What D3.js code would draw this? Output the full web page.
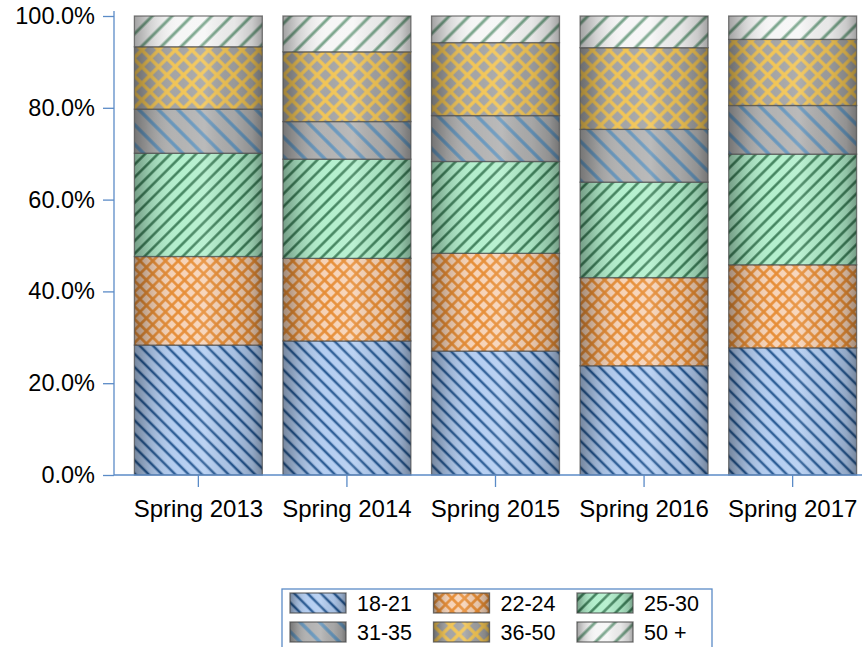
<!DOCTYPE html>
<html>
<head>
<meta charset="utf-8">
<script src="https://cdn.jsdelivr.net/npm/d3@7"></script>
<style>
  html, body { margin: 0; padding: 0; background: #fff; }
  svg { display: block; }
  text { font-family: "Liberation Sans", Arial, Helvetica, sans-serif; fill: #000; }
</style>
</head>
<body>
<svg id="chart" width="863" height="647"></svg>
<script>
// ---- data ----
const categories = ["Spring 2013", "Spring 2014", "Spring 2015", "Spring 2016", "Spring 2017"];
const groups = ["18-21", "22-24", "25-30", "31-35", "36-50", "50 +"];
const s18_21 = [28.3, 29.2, 27.0, 23.8, 27.7];
const s22_24 = [19.3, 18.0, 21.3, 19.2, 18.1];
const s25_30 = [22.5, 21.6, 20.0, 20.8, 24.1];
const s31_35 = [9.6, 8.2, 10.0, 11.5, 10.6];
const s36_50 = [13.6, 15.2, 15.9, 17.8, 14.4];
const s50p   = [6.7, 7.8, 5.8, 6.9, 5.1];
const yTicks = [0, 0.2, 0.4, 0.6, 0.8, 1.0];

const seriesValues = [s18_21, s22_24, s25_30, s31_35, s36_50, s50p];

// ---- styles ----
const styles = [
  { id: "p0", type: "stripe", angle: -45, spacing: 9.4, width: 2.5, color: "#285a94", bg: "#b3cdf1" },
  { id: "p1", type: "cross",  angle: 45,  spacing: 9.0, width: 2.6, color: "#e68a30", bg: "#f6d2b6" },
  { id: "p2", type: "stripe", angle: 45,  spacing: 9.0, width: 2.4, color: "#377a53", bg: "#b2efcc" },
  { id: "p3", type: "stripe", angle: -45, spacing: 13.8, width: 3.4, color: "#6494bb", bg: "#b1b1b1" },
  { id: "p4", type: "cross",  angle: 45,  spacing: 11.8, width: 3.4, color: "#f2c452", bg: "#a3a3a3" },
  { id: "p5", type: "stripe", angle: 45,  spacing: 14.0, width: 3.0, color: "#78a48a", bg: "#f6f6f6" }
];

const svg = d3.select("#chart");
const defs = svg.append("defs");

styles.forEach(s => {
  const p = defs.append("pattern")
    .attr("id", s.id)
    .attr("patternUnits", "userSpaceOnUse")
    .attr("width", s.spacing).attr("height", s.spacing)
    .attr("patternTransform", `rotate(${s.angle})`);
  p.append("rect").attr("width", s.spacing).attr("height", s.spacing).attr("fill", s.bg);
  p.append("line")
    .attr("x1", s.spacing / 2).attr("y1", -1).attr("x2", s.spacing / 2).attr("y2", s.spacing + 1)
    .attr("stroke", s.color).attr("stroke-width", s.width);
  if (s.type === "cross") {
    p.append("line")
      .attr("x1", -1).attr("y1", s.spacing / 2).attr("x2", s.spacing + 1).attr("y2", s.spacing / 2)
      .attr("stroke", s.color).attr("stroke-width", s.width);
  }
});

const grad = defs.append("linearGradient").attr("id", "sheen")
  .attr("x1", 0).attr("x2", 1).attr("y1", 0).attr("y2", 0);
[
  [0, "#000", 0.34], [0.12, "#000", 0.15], [0.35, "#fff", 0.02], [0.55, "#fff", 0.12],
  [0.78, "#000", 0.06], [0.92, "#000", 0.18], [1, "#000", 0.34]
].forEach(([o, c, a]) => grad.append("stop").attr("offset", o).attr("stop-color", c).attr("stop-opacity", a));

// ---- scales ----
const x = d3.scaleBand().domain(categories).range([124, 867]).paddingInner(0.139).paddingOuter(0.07);
const y = d3.scaleLinear().domain([0, 1]).range([475, 16]);
const axisColor = "#5b8bc7";

// ---- stack ----
const table = categories.map((c, i) => {
  const row = { cat: c };
  groups.forEach((g, j) => row[g] = seriesValues[j][i] / 100);
  return row;
});
const stacked = d3.stack().keys(groups)(table);

const barsG = svg.append("g");
stacked.forEach((layer, j) => {
  const g = barsG.append("g");
  const sel = g.selectAll("g").data(layer).join("g");
  sel.append("rect")
    .attr("x", d => x(d.data.cat)).attr("width", x.bandwidth())
    .attr("y", d => y(d[1])).attr("height", d => y(d[0]) - y(d[1]))
    .attr("fill", `url(#${styles[j].id})`);
  sel.append("rect")
    .attr("x", d => x(d.data.cat)).attr("width", x.bandwidth())
    .attr("y", d => y(d[1])).attr("height", d => y(d[0]) - y(d[1]))
    .attr("fill", "url(#sheen)")
    .attr("stroke", "#4a4a4a").attr("stroke-opacity", 0.7).attr("stroke-width", 1.3);
});

// ---- axes ----
const yAxis = d3.axisLeft(y).tickValues(yTicks).tickFormat(d3.format(".1%"))
  .tickSize(11).tickSizeOuter(0).tickPadding(8);
const yg = svg.append("g").attr("transform", "translate(114,0)").call(yAxis);
yg.select(".domain").attr("d", `M0,${y(1) - 5}V${y(0)}`);
yg.selectAll("line, path").attr("stroke", axisColor).attr("stroke-width", 1.3);
yg.selectAll("text").attr("font-size", 23.5).attr("font-family", "'Liberation Sans', Arial, sans-serif").attr("fill", "#000");

const xAxis = d3.axisBottom(x).tickSize(12).tickSizeOuter(0).tickPadding(13);
const xg = svg.append("g").attr("transform", `translate(0,${y(0)})`).call(xAxis);
xg.select(".domain").attr("d", `M114,0H862`);
xg.selectAll("line, path").attr("stroke", axisColor).attr("stroke-width", 1.3);
xg.selectAll("text").attr("font-size", 24).attr("font-family", "'Liberation Sans', Arial, sans-serif").attr("fill", "#000");

// ---- legend ----
const legend = svg.append("g");
legend.append("rect").attr("x", 282).attr("y", 589).attr("width", 430).attr("height", 80)
  .attr("fill", "#fff").attr("stroke", axisColor).attr("stroke-width", 1.3);
const colX = [290, 433.5, 577];
const rowY = [593, 622];
groups.forEach((gname, j) => {
  const cx = colX[j % 3], cy = rowY[Math.floor(j / 3)];
  legend.append("rect").attr("x", cx).attr("y", cy).attr("width", 56).attr("height", 20)
    .attr("fill", `url(#${styles[j].id})`);
  legend.append("rect").attr("x", cx).attr("y", cy).attr("width", 56).attr("height", 20)
    .attr("fill", "url(#sheen)").attr("stroke", "#4a4a4a").attr("stroke-opacity", 0.75).attr("stroke-width", 1.3);
  legend.append("text").attr("x", cx + 67).attr("y", cy + 10).attr("dy", "0.36em")
    .attr("font-size", 21.5).text(gname);
});
</script>
</body>
</html>
